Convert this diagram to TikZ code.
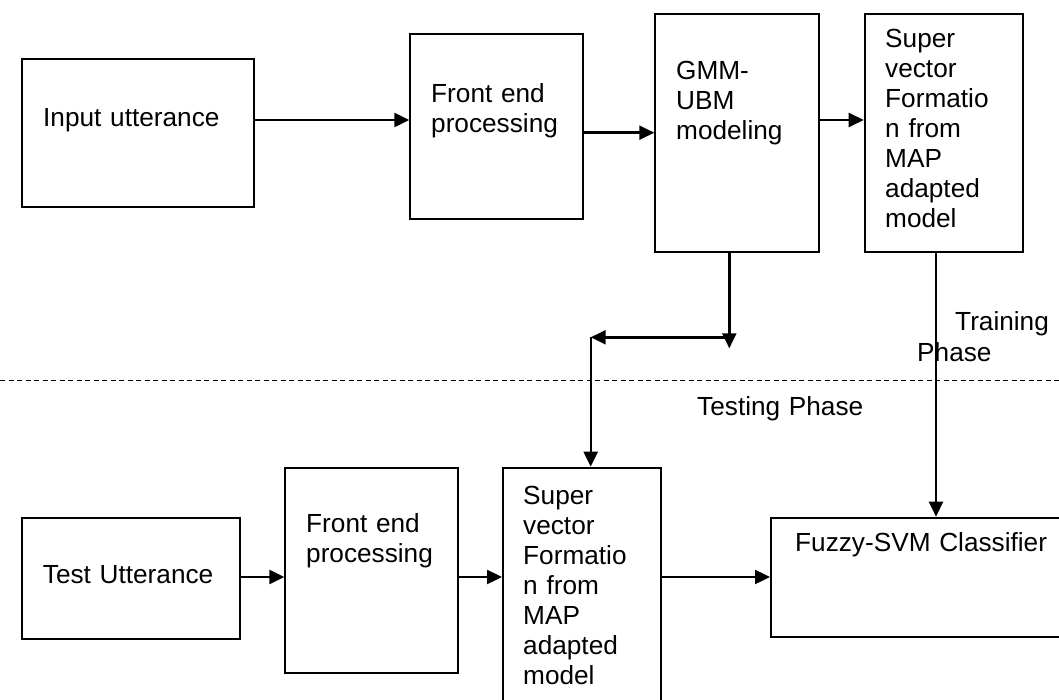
\documentclass[tikz,border=0pt]{standalone}
\usepackage{fontspec}
\setmainfont{Liberation Sans}
\usetikzlibrary{arrows.meta}
\begin{document}
\begin{tikzpicture}[x=1pt,y=-1pt,
  box/.style={draw,line width=1.9pt,inner sep=0,anchor=north west},
  arr/.style={line width=2.4pt,-{Triangle[length=15pt,width=14pt]}},
  txt/.style={anchor=base west,inner sep=0,text width=300pt,align=left,font=\fontsize{26.2}{30}\selectfont},
  phase/.style={line width=0.9pt,dash pattern=on 5pt off 3.5pt}
]
\useasboundingbox (0,0) rectangle (1059,700);
% boxes
\node[box,minimum width=231.7pt,minimum height=147.2pt] (inp) at (21,58.5) {};
\node[box,minimum width=172.4pt,minimum height=185pt] (fe1) at (409.3,33.3) {};
\node[box,minimum width=164pt,minimum height=237.4pt] (gmm) at (654.3,13.3) {};
\node[box,minimum width=158.6pt,minimum height=237.4pt] (sv1) at (863.7,13.3) {};
\node[box,minimum width=218.3pt,minimum height=121.3pt] (tst) at (21,516.7) {};
\node[box,minimum width=173pt,minimum height=205pt] (fe2) at (284.3,467.3) {};
\node[box,minimum width=158pt,minimum height=260pt] (sv2) at (502,466.7) {};
\node[box,minimum width=300pt,minimum height=119.3pt] (fz) at (770,516.7) {};
% texts
\node[txt] (tinp) at (43,127) {Input utterance};
\node[txt] (tfe1) at (431,102.5) {Front end\\processing};
\node[txt] (tgmm) at (676,80) {GMM-\\UBM\\modeling};
\node[txt] (tsv1) at (885,48) {Super\\vector\\Formatio\\n from\\MAP\\adapted\\model};
\node[txt] (ttst) at (42.7,583) {Test Utterance};
\node[txt] (tfe2) at (306,532.7) {Front end\\processing};
\node[txt] (tsv2) at (523,504) {Super\\vector\\Formatio\\n from\\MAP\\adapted\\model};
\node[txt] (tfz) at (795,551.7) {Fuzzy-SVM Classifier};
\node[txt] (ttr) at (955,330.5) {Training};
\node[txt] (tph) at (917,361.4) {Phase};
\node[txt] (tts) at (697,415) {Testing Phase};
% helper coordinates
\coordinate (ya) at (0,120);
\coordinate (yb) at (0,132.7);
\coordinate (yc) at (0,577);
\coordinate (xg) at (729.3,0);
\coordinate (xs) at (936,0);
\coordinate (jd) at (729.3,348.3);
\coordinate (jr) at (729.3,337.3);
\coordinate (jl) at (590.7,337.3);
\coordinate (dl) at (0,380);
\coordinate (dr) at (1059,380);
% connectors
\draw[arr] (inp.east |- ya) -- (fe1.west |- ya);
\draw[arr] (fe1.east |- yb) -- (gmm.west |- yb);
\draw[arr] (gmm.east |- ya) -- (sv1.west |- ya);
\draw[arr] (gmm.south -| xg) -- (jd);
\draw[arr] (jr) -- (jl);
\draw[arr] (jl) -- (sv2.north -| jl);
\draw[arr] (sv1.south -| xs) -- (fz.north -| xs);
\draw[arr] (tst.east |- yc) -- (fe2.west |- yc);
\draw[arr] (fe2.east |- yc) -- (sv2.west |- yc);
\draw[arr] (sv2.east |- yc) -- (fz.west |- yc);
\draw[phase] (dl) -- (dr);
\end{tikzpicture}
\end{document}
